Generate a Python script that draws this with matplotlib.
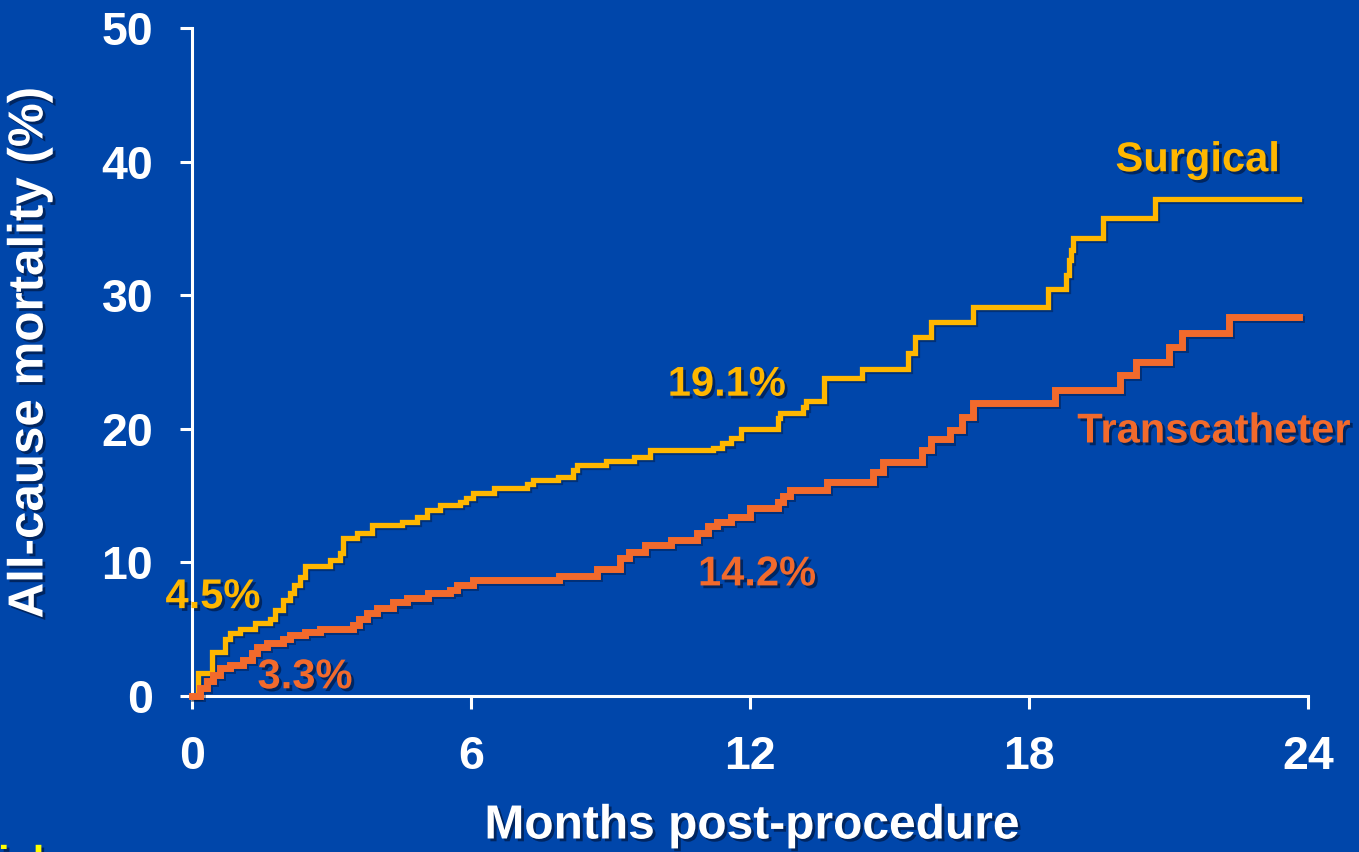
import numpy as np
import matplotlib.pyplot as plt
import matplotlib.patheffects as pe

# 背景和颜色
BG = '#0046AA'
SURG_COLOR = '#FFB700'
TRANS_COLOR = '#F26A2C'

# Surgical 曲线 (月, %)
surg_months = [0, 0.13, 0.43, 0.71, 0.82, 1.03, 1.35, 1.68, 1.79, 1.96, 2.1, 2.2, 2.32, 2.43,
               2.97, 3.18, 3.25, 3.55, 3.87, 4.52, 4.84, 5.05, 5.33, 5.76, 5.9, 6.05, 6.5,
               7.2, 7.33, 7.87, 8.2, 8.28, 8.9, 9.5, 9.85, 11.2, 11.4, 11.6, 11.8, 12.6,
               12.65, 13.15, 13.2, 13.6, 14.4, 15.4, 15.55, 15.9, 16.8, 18.4, 18.8, 18.85,
               18.9, 18.95, 19.6, 20.7, 23.8]
surg_mort = [0, 1.7, 3.3, 4.3, 4.7, 5.0, 5.5, 5.8, 6.4, 7.2, 7.7, 8.3, 8.9, 9.7,
             10.2, 10.7, 11.8, 12.2, 12.8, 13.0, 13.4, 13.9, 14.3, 14.5, 14.8, 15.2, 15.6,
             15.9, 16.2, 16.4, 16.9, 17.3, 17.6, 17.9, 18.4, 18.6, 18.9, 19.3, 20.0, 20.8,
             21.2, 21.6, 22.1, 23.8, 24.5, 25.7, 26.9, 28.0, 29.1, 30.5, 31.5, 32.6,
             33.4, 34.3, 35.8, 37.2, 37.2]

# Transcatheter 曲线
trans_months = [0, 0.17, 0.32, 0.45, 0.6, 0.82, 1.1, 1.29, 1.4, 1.61, 1.96, 2.1, 2.43, 2.75,
                3.46, 3.6, 3.76, 3.97, 4.33, 4.62, 5.08, 5.55, 5.7, 6.05, 7.9, 8.7, 9.2,
                9.4, 9.75, 10.3, 10.85, 11.1, 11.3, 11.6, 12.0, 12.6, 12.7, 12.85, 13.65,
                14.65, 14.86, 15.7, 15.9, 16.3, 16.55, 16.8, 18.55, 19.95, 20.3, 21.0,
                21.3, 22.3, 23.8]
trans_mort = [0, 0.6, 1.1, 1.6, 2.1, 2.3, 2.7, 3.2, 3.7, 4.0, 4.3, 4.6, 4.8, 5.0,
              5.3, 5.8, 6.2, 6.6, 7.0, 7.3, 7.7, 7.9, 8.3, 8.7, 9.0, 9.5, 10.3,
              10.8, 11.3, 11.7, 12.2, 12.7, 13.0, 13.4, 14.1, 14.5, 15.0, 15.4, 16.0,
              16.8, 17.5, 18.4, 19.2, 19.9, 20.9, 21.9, 22.9, 24.0, 25.0, 26.1,
              27.2, 28.4, 28.4]

x_ticks = [0, 6, 12, 18, 24]
y_ticks = [0, 10, 20, 30, 40, 50]

plt.rcParams['font.family'] = ['Liberation Sans', 'DejaVu Sans']
plt.rcParams['font.weight'] = 'bold'

fig = plt.figure(figsize=(13.59, 8.52), dpi=100, facecolor=BG)
ax = fig.add_axes([192 / 1359, 1 - 696 / 852, (1308 - 192) / 1359, (696 - 28) / 852])
ax.set_facecolor(BG)

shadow = [pe.SimplePatchShadow(offset=(2, -2), shadow_rgbFace='#001030', alpha=0.6), pe.Normal()]
line_shadow = [pe.SimpleLineShadow(offset=(1.5, -1.5), shadow_color='#001030', alpha=0.4), pe.Normal()]

ax.step(surg_months, surg_mort, where='post', color=SURG_COLOR, lw=3.8,
        solid_joinstyle='miter', clip_on=False, path_effects=line_shadow, zorder=3)
ax.step(trans_months, trans_mort, where='post', color=TRANS_COLOR, lw=5,
        solid_joinstyle='miter', clip_on=False, path_effects=line_shadow, zorder=4)

ax.set_xlim(0, 24)
ax.set_ylim(0, 50)
ax.set_xticks(x_ticks)
ax.set_yticks(y_ticks)
ax.tick_params(colors='white', width=2.2, length=9, labelsize=33.5, pad=19)
for lab in ax.get_xticklabels() + ax.get_yticklabels():
    lab.set_fontweight('bold')
for s in ['top', 'right']:
    ax.spines[s].set_visible(False)
for s in ['left', 'bottom']:
    ax.spines[s].set_color('white')
    ax.spines[s].set_linewidth(2.2)

# 曲线标签
txt = dict(fontsize=30, fontweight='bold', ha='center', va='center', clip_on=False,
           path_effects=shadow)
ax.text(21.63, 40.1, 'Surgical', color=SURG_COLOR, **txt)
ax.text(21.98, 19.8, 'Transcatheter', color=TRANS_COLOR, **txt)
ax.text(0.45, 7.4, '4.5%', color=SURG_COLOR, **txt)
ax.text(11.5, 23.3, '19.1%', color=SURG_COLOR, **txt)
ax.text(2.43, 1.4, '3.3%', color=TRANS_COLOR, **txt)
ax.text(12.15, 9.1, '14.2%', color=TRANS_COLOR, **txt)

fig.text(752 / 1359, 1 - 826 / 852, 'Months post-procedure', color='white', fontsize=34.5,
         fontweight='bold', ha='center', va='center', path_effects=shadow)
fig.text(30 / 1359, 1 - 353 / 852, 'All-cause mortality (%)', color='white', fontsize=35.5,
         fontweight='bold', ha='center', va='center', rotation=90, path_effects=shadow)
# 左下角被裁掉的文字
fig.text(-2 / 1359, 1 - 844 / 852, 'ich', color='#FFFF00', fontsize=30, fontweight='bold',
         ha='left', va='top', path_effects=shadow)

fig.savefig('out.png', dpi=100, facecolor=BG)
